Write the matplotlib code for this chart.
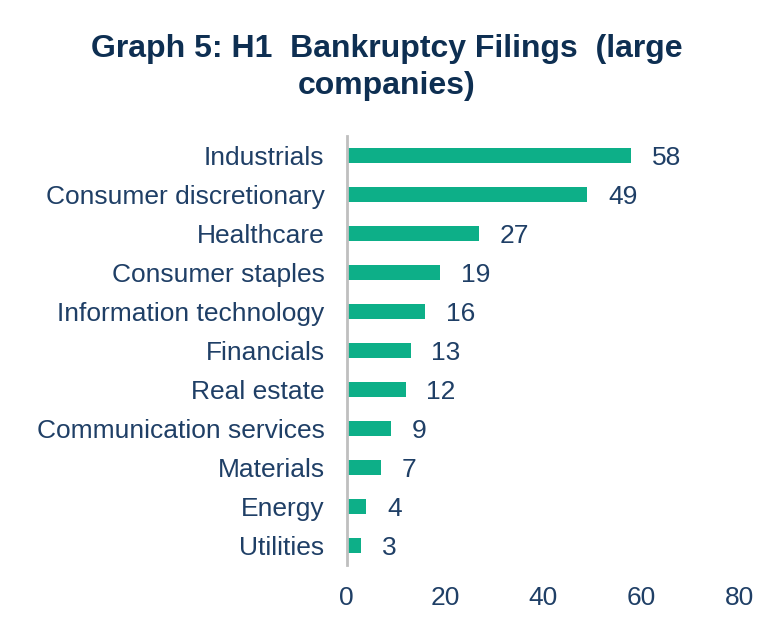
import matplotlib
matplotlib.use("Agg")
import matplotlib.pyplot as plt

categories = ["Industrials", "Consumer discretionary", "Healthcare", "Consumer staples",
              "Information technology", "Financials", "Real estate",
              "Communication services", "Materials", "Energy", "Utilities"]
values = [58, 49, 27, 19, 16, 13, 12, 9, 7, 4, 3]
xticks = [0, 20, 40, 60, 80]

plt.rcParams['font.family'] = ['Liberation Sans', 'DejaVu Sans']
navy = "#1F3F66"
bar_color = "#0DAF88"

fig = plt.figure(figsize=(7.74, 6.31), dpi=100)
ax = fig.add_axes([0.448, 0.1046, 0.507, 0.68])

y = list(range(len(categories)))
ax.barh(y, values, height=0.37, color=bar_color)
ax.set_ylim(len(categories) - 0.5, -0.5)
ax.set_xlim(0, 80)
ax.set_yticks(y)
ax.set_yticklabels(categories, fontsize=19, color=navy)
ax.set_xticks(xticks)
ax.set_xticklabels([str(t) for t in xticks], fontsize=19, color=navy)
ax.tick_params(axis='y', length=0, pad=16)
ax.tick_params(axis='x', length=0, pad=15)
for s in ['top', 'right', 'bottom']:
    ax.spines[s].set_visible(False)
ax.spines['left'].set_color("#BFBFBF")
ax.spines['left'].set_linewidth(2)

for yi, v in zip(y, values):
    ax.annotate(str(v), (v, yi), xytext=(15, 0), textcoords='offset points',
                va='center_baseline', ha='left', fontsize=19, color=navy)

fig.text(0.5, 0.893, "Graph 5: H1  Bankruptcy Filings  (large\ncompanies)",
         ha='center', va='center', fontsize=23, fontweight='bold', color="#0E2F52",
         linespacing=1.3)

fig.savefig("out.png", dpi=100)
